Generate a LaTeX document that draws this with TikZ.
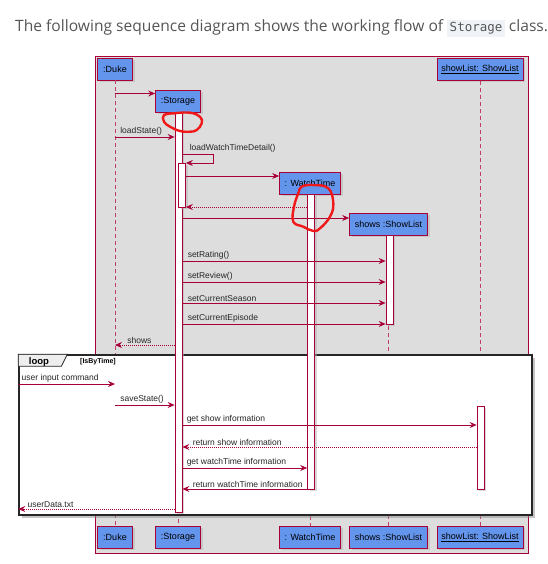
\documentclass[tikz,border=0pt]{standalone}
\usepackage{fontspec}
\setmainfont{Open Sans}
\setsansfont{Liberation Sans}
\setmonofont{DejaVu Sans Mono}
\usetikzlibrary{arrows.meta,shadows,positioning,calc}

\definecolor{umlred}{HTML}{A80036}
\definecolor{umlblue}{HTML}{6495ED}
\definecolor{panelgrey}{HTML}{DDDDDD}
\definecolor{tabgrey}{HTML}{EEEEEE}
\definecolor{headgrey}{HTML}{555555}
\definecolor{codebg}{HTML}{EFF3F8}
\definecolor{markred}{HTML}{F01818}

\newcommand{\inlinecode}[1]{{\setlength{\fboxsep}{2.5pt}\colorbox{codebg}{\ttfamily\fontsize{12.5}{14}\selectfont #1}}}

\tikzset{
  party/.style={draw=umlred, fill=umlblue, line width=0.8pt, minimum height=22pt, inner sep=0pt,
    font=\sffamily\fontsize{9}{10}\selectfont,
    drop shadow={shadow xshift=2pt, shadow yshift=-2pt, fill=black!30}},
  lifeline/.style={umlred!75, dash pattern=on 4pt off 3pt, line width=0.6pt},
  actbar/.style={draw=umlred, fill=white, line width=0.8pt, minimum width=7pt, inner sep=0pt,
    drop shadow={shadow xshift=2pt, shadow yshift=-2pt, fill=black!30}},
  msg/.style={umlred, line width=0.7pt, -{Stealth[length=7pt, width=6pt, inset=2.5pt]}},
  reply/.style={msg, dash pattern=on 1pt off 1pt},
  lbl/.style={font=\sffamily\fontsize{8.5}{9}\selectfont, text=black!85, inner sep=1pt, anchor=south west},
}

\begin{document}
\begin{tikzpicture}[x=1pt, y=-1pt]
 \useasboundingbox (0,0) rectangle (547,564);

 % heading of the page
 \node[anchor=west, inner sep=0pt, text=headgrey, font=\fontsize{15.6}{18}\selectfont] (head) at (15,28)
   {The following sequence diagram shows the working flow of \inlinecode{Storage} class.};

 % grey panel
 \node[draw=umlred, fill=panelgrey, line width=0.8pt, minimum width=433pt, minimum height=497pt, inner sep=0pt] (panel) at (311.5,304.5) {};

 % participants
 \node[party, minimum width=35pt] (duke) at (115,69) {:Duke};
 \node[party, minimum width=45pt] (storage) at (178,101.5) {:Storage};
 \node[party, minimum width=61pt] (watch) at (310,183) {: WatchTime};
 \node[party, minimum width=78pt] (shows) at (388.5,224) {shows :ShowList};
 \node[party, minimum width=86pt] (slist) at (480,69.5) {\underline{showList: ShowList}};

 \node[party, minimum width=35pt] (dukeB) at (115,537) {:Duke};
 \node[party, minimum width=45pt] (storageB) at (178,537) {:Storage};
 \node[party, minimum width=61pt] (watchB) at (310,537) {: WatchTime};
 \node[party, minimum width=78pt] (showsB) at (388.5,537) {shows :ShowList};
 \node[party, minimum width=86pt] (slistB) at (480,537) {\underline{showList: ShowList}};

 % lifelines
 \draw[lifeline] (duke.south) -- (dukeB.north);
 \draw[lifeline] (storage.south) -- (storageB.north);
 \draw[lifeline] (watch.south) -- (watchB.north);
 \draw[lifeline] (shows.south) -- (showsB.north);
 \draw[lifeline] (slist.south) -- (slistB.north);

 % loop frame
 \node[draw=black!85, fill=white, line width=1.4pt, minimum width=513pt, minimum height=160pt, inner sep=0pt,
   drop shadow={shadow xshift=2.5pt, shadow yshift=-2.5pt, fill=black!45}] (loop) at (275.5,435) {};
 \filldraw[fill=tabgrey, draw=black!85, line width=0.8pt] (loop.north west) -- ++(49,0) -- ++(-6,12) -- ++(-43,0) -- cycle;
 \node[font=\sffamily\bfseries\fontsize{9.5}{10}\selectfont] (looplbl) at (39,362) {loop};
 \node[font=\sffamily\bfseries\fontsize{7}{8}\selectfont] (guard) at (98,361.5) {[IsByTime]};

 % activation bars
 \node[actbar, minimum height=400pt] (stbar) at (178.5,312) {};
 \node[actbar, minimum height=44pt] (innerbar) at (182,185) {};
 \node[actbar, minimum height=295pt] (wtbar) at (311,341.5) {};
 \node[actbar, minimum height=89pt] (shbar) at (389.5,279.5) {};
 \node[actbar, minimum height=83pt] (slbar) at (480.5,447.5) {};

 % messages
 \draw[msg] (duke.south |- 0,93.5) -- (storage.west |- 0,93.5);
 \draw[msg] (duke.south |- 0,137) -- node[lbl, pos=0, xshift=4pt] {loadState()} (stbar.west |- 0,137);
 \draw[msg] (stbar.east |- 0,154) -- node[lbl, pos=0, xshift=6pt] {loadWatchTimeDetail()} ++(31,0) |- (innerbar.east |- 0,163);
 \draw[msg] (innerbar.east |- 0,176) -- (watch.west |- 0,176);
 \draw[reply] (wtbar.west |- 0,207) -- (innerbar.east |- 0,207);
 \draw[msg] (stbar.east |- 0,218) -- (shows.west |- 0,218);
 \draw[msg] (stbar.east |- 0,261) -- node[lbl, pos=0, xshift=4pt] {setRating()} (shbar.west |- 0,261);
 \draw[msg] (stbar.east |- 0,282) -- node[lbl, pos=0, xshift=4pt] {setReview()} (shbar.west |- 0,282);
 \draw[msg] (stbar.east |- 0,303) -- node[lbl, pos=0, xshift=4pt] {setCurrentSeason} (shbar.west |- 0,303);
 \draw[msg] (stbar.east |- 0,324) -- node[lbl, pos=0, xshift=4pt] {setCurrentEpisode} (shbar.west |- 0,324);
 \draw[reply] (stbar.west |- 0,345) -- node[lbl, pos=1, xshift=11pt] {shows} (duke.south |- 0,345);

 % inside the loop
 \draw[msg] (loop.west |- 0,384) -- node[lbl, pos=0, xshift=2pt] {user input command} (duke.south |- 0,384);
 \draw[msg] (duke.south |- 0,405) -- node[lbl, pos=0, xshift=4pt] {saveState()} (stbar.west |- 0,405);
 \draw[msg] (stbar.east |- 0,425) -- node[lbl, pos=0, xshift=3pt] {get show information} (slbar.west |- 0,425);
 \draw[reply] (slbar.west |- 0,447) -- node[lbl, pos=1, xshift=9pt] {return show information} (stbar.east |- 0,447);
 \draw[msg] (stbar.east |- 0,468) -- node[lbl, pos=0, xshift=3pt] {get watchTime information} (wtbar.west |- 0,468);
 \draw[msg] (wtbar.west |- 0,489) -- node[lbl, pos=1, xshift=9pt] {return watchTime information} (stbar.east |- 0,489);
 \draw[reply] (stbar.west |- 0,509) -- node[lbl, pos=1, xshift=8pt] {userData.txt} (loop.west |- 0,509);

 % hand-drawn marks
 \draw[markred, line width=2.4pt, line cap=round] plot[smooth cycle, tension=0.7] coordinates
   {(164,115) (174,113.3) (190,112.7) (200,116.7) (201.7,123.3) (196.7,130) (190,131.7) (180,131) (170,126.7) (164,121.7)};
 \draw[markred, line width=2.4pt, line cap=round] plot[smooth cycle, tension=0.7] coordinates
   {(301.7,186.7) (313.3,185) (328.3,188.3) (333.3,203.3) (330,216.7) (320,228.3) (313.3,231) (303.3,226.7) (293.3,221.7) (294,206.7) (298.3,193.3)};
\end{tikzpicture}
\end{document}
